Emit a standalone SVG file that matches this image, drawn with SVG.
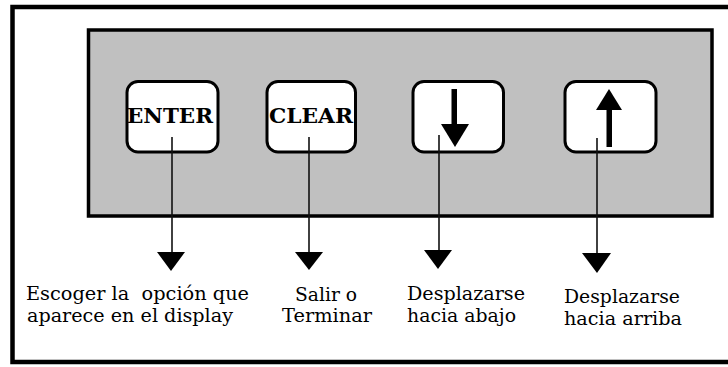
<svg xmlns="http://www.w3.org/2000/svg" width="728" height="367" viewBox="0 0 728 367">
<defs>
<style>
.frame{fill:none;stroke:#000;stroke-width:4.5}
.panel{fill:#c0c0c0;stroke:#000;stroke-width:3.5}
.key{fill:#fff;stroke:#000;stroke-width:3}
.keytxt{font-family:"DejaVu Serif","Liberation Serif",serif;font-weight:bold;font-size:20px;fill:#000}
.lbl{font-family:"DejaVu Serif","Liberation Serif",serif;font-size:19px;fill:#000;white-space:pre}
.conn{stroke:#111;stroke-width:1.6;fill:none}
.head{fill:#000}
</style>
</defs>
<rect width="728" height="367" fill="#fff"/>
<path class="frame" d="M728,7 H12.5 V362 H728"/>
<g id="panel">
<rect class="panel" x="88.5" y="30" width="623.5" height="186"/>
</g>
<g id="enter">
<rect class="key" x="127" y="81.5" width="91" height="70.5" rx="11"/>
<text class="keytxt" x="127" y="123" textLength="86" lengthAdjust="spacingAndGlyphs">ENTER</text>
</g>
<g id="clear">
<rect class="key" x="267" y="81.5" width="88.5" height="70.5" rx="11"/>
<text class="keytxt" x="269" y="123" textLength="84" lengthAdjust="spacingAndGlyphs">CLEAR</text>
</g>
<g id="down">
<rect class="key" x="413" y="81.5" width="90.5" height="70.5" rx="11"/>
<rect x="451.5" y="89" width="5.5" height="38" fill="#000"/>
<polygon class="head" points="441,124 469,124 455,147"/>
</g>
<g id="up">
<rect class="key" x="565" y="81.5" width="91" height="70.5" rx="11"/>
<rect x="606.5" y="108" width="5.5" height="39" fill="#000"/>
<polygon class="head" points="609,89 622,110 596,110"/>
</g>
<g id="connectors">
<line class="conn" x1="172" y1="137" x2="172" y2="253"/>
<polygon class="head" points="157,252 185,252 171,271"/>
<line class="conn" x1="309" y1="137" x2="309" y2="253"/>
<polygon class="head" points="295,252 323,252 309,270"/>
<line class="conn" x1="439" y1="135" x2="439" y2="251"/>
<polygon class="head" points="424,250 452,250 438,269"/>
<line class="conn" x1="597" y1="138" x2="597" y2="254"/>
<polygon class="head" points="582,253 611,253 597,273"/>
</g>
<g id="labels">
<text class="lbl" x="26" y="300" textLength="223" lengthAdjust="spacingAndGlyphs" xml:space="preserve">Escoger la  opción que</text>
<text class="lbl" x="27" y="322" textLength="206" lengthAdjust="spacingAndGlyphs">aparece en el display</text>
<text class="lbl" x="295" y="301" textLength="62" lengthAdjust="spacingAndGlyphs">Salir o</text>
<text class="lbl" x="282" y="322" textLength="90" lengthAdjust="spacingAndGlyphs">Terminar</text>
<text class="lbl" x="407" y="300" textLength="118" lengthAdjust="spacingAndGlyphs">Desplazarse</text>
<text class="lbl" x="407" y="322" textLength="109" lengthAdjust="spacingAndGlyphs">hacia abajo</text>
<text class="lbl" x="564" y="303" textLength="116" lengthAdjust="spacingAndGlyphs">Desplazarse</text>
<text class="lbl" x="564" y="325" textLength="118" lengthAdjust="spacingAndGlyphs">hacia arriba</text>
</g>
</svg>
